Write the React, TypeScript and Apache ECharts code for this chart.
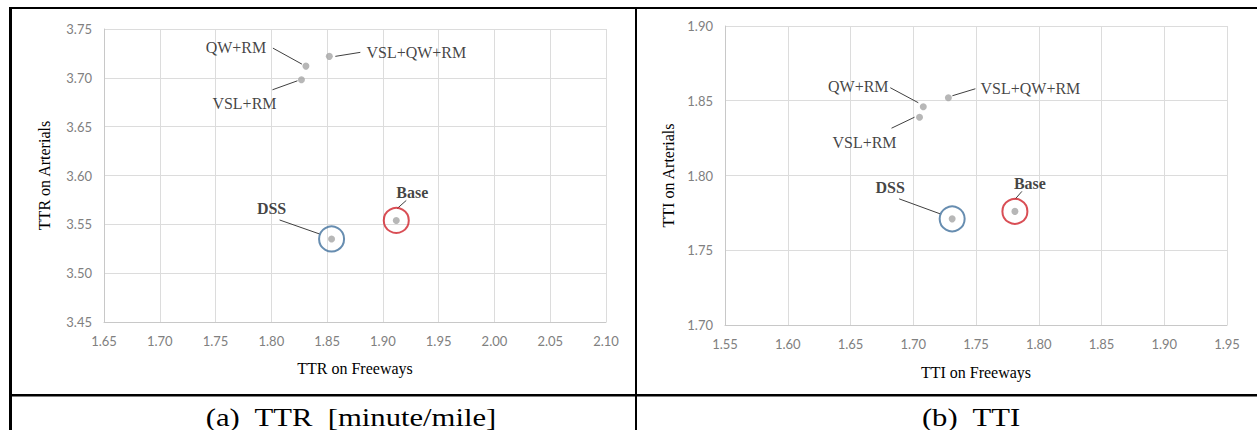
import React, { useEffect, useRef } from "react";
import * as echarts from "echarts";

// ---------- data ----------
const methods = ["QW+RM", "VSL+RM", "VSL+QW+RM", "DSS", "Base"];
const ttrFreeways = [1.831, 1.827, 1.852, 1.854, 1.912];
const ttrArterials = [3.712, 3.698, 3.722, 3.535, 3.554];
const ttiFreeways = [1.708, 1.705, 1.728, 1.731, 1.781];
const ttiArterials = [1.846, 1.839, 1.852, 1.771, 1.776];
const highlightedMethods = ["DSS", "Base"];

const ttrFreewayRange = [1.65, 2.1];
const ttrArterialRange = [3.45, 3.75];
const ttiFreewayRange = [1.55, 1.95];
const ttiArterialRange = [1.7, 1.9];
const tickStep = 0.05;

const xTitles = ["TTR on Freeways", "TTI on Freeways"];
const yTitles = ["TTR on Arterials", "TTI on Arterials"];
const captions = ["(a)  TTR  [minute/mile]", "(b)  TTI"];

// ---------- layout / style ----------
const SERIF = "'Liberation Serif', 'Times New Roman', serif";
const TICK_FONT = "Lato, Calibri, 'Liberation Sans', sans-serif";
const grids = [
  { left: 104, top: 29, width: 502, height: 293 },
  { left: 725, top: 26, width: 502, height: 299 },
];
const yNameGaps = [52, 49];
const xNameGaps = [38, 39];
const ringColors: Record<string, string> = { DSS: "#41719c", Base: "#d0222a" };
const labelOffsets: Record<string, number[]>[] = [
  { "QW+RM": [-70, -19], "VSL+RM": [-57, 24], "VSL+QW+RM": [87, -4], DSS: [-60, -30], Base: [16, -28] },
  { "QW+RM": [-65, -20], "VSL+RM": [-55, 25], "VSL+QW+RM": [82, -9], DSS: [-62, -31], Base: [15, -28] },
];
const leaderOffsets: Record<string, number[]>[] = [
  { "QW+RM": [-33, -18, -4, -2], "VSL+RM": [-29, 10, -4, 1], "VSL+QW+RM": [6, 0, 31, -4], DSS: [-52, -19, -12, -5], Base: [10, -20, 1, -12] },
  { "QW+RM": [-33, -19, -5, -4], "VSL+RM": [-28, 11, -5, 0], "VSL+QW+RM": [4, -2, 27, -9], DSS: [-53, -20, -12, -5], Base: [7, -20, 0, -12] },
];
const captionPos = [
  [351, 417],
  [971, 417],
];

const panels = [
  { xs: ttrFreeways, ys: ttrArterials, xr: ttrFreewayRange, yr: ttrArterialRange },
  { xs: ttiFreeways, ys: ttiArterials, xr: ttiFreewayRange, yr: ttiArterialRange },
];

export default function App() {
  const ref = useRef<HTMLDivElement>(null);
  useEffect(() => {
    if (!ref.current) return;
    const chart = echarts.init(ref.current, null, { renderer: "svg" });

    const xAxis: any[] = [];
    const yAxis: any[] = [];
    const series: any[] = [];
    panels.forEach((p, gi) => {
      const axisCommon = {
        type: "value",
        gridIndex: gi,
        interval: tickStep,
        axisTick: { show: false },
        axisLine: { show: true, lineStyle: { color: "#c8c8c8", width: 1 } },
        splitLine: { show: true, lineStyle: { color: "#dcdcdc", width: 1 } },
        axisLabel: {
          color: "#808080",
          fontSize: 13,
          fontFamily: TICK_FONT,
          formatter: (v: number) => v.toFixed(2),
        },
        nameLocation: "middle",
        nameTextStyle: { fontFamily: SERIF, fontSize: 16, color: "#000" },
      };
      xAxis.push({
        ...axisCommon,
        min: p.xr[0],
        max: p.xr[1],
        name: xTitles[gi],
        nameGap: xNameGaps[gi],
        axisLabel: { ...axisCommon.axisLabel, margin: 12 },
      });
      yAxis.push({
        ...axisCommon,
        min: p.yr[0],
        max: p.yr[1],
        name: yTitles[gi],
        nameGap: yNameGaps[gi],
        axisLabel: { ...axisCommon.axisLabel, margin: 12 },
      });
      const labelBase = {
        show: true,
        position: "inside",
        formatter: "{b}",
        fontFamily: SERIF,
        fontSize: 16,
        color: "#111",
        textBorderWidth: 0,
        textBorderColor: "transparent",
      };
      const offs = labelOffsets[gi];
      series.push({
        type: "scatter",
        xAxisIndex: gi,
        yAxisIndex: gi,
        symbolSize: 7,
        itemStyle: { color: "#a5a5a5" },
        z: 4,
        data: methods.map((m, i) => ({
          name: m,
          value: [p.xs[i], p.ys[i]],
          label: { show: !highlightedMethods.includes(m) },
        })),
        label: labelBase,
        labelLayout: (params: any) => {
          const o = offs[methods[params.dataIndex]];
          return { dx: o[0], dy: o[1] };
        },
      });
      series.push({
        type: "scatter",
        xAxisIndex: gi,
        yAxisIndex: gi,
        symbolSize: 25,
        z: 3,
        itemStyle: { color: "rgba(0,0,0,0)", borderWidth: 2 },
        data: highlightedMethods.map((m) => {
          const i = methods.indexOf(m);
          return {
            name: m,
            value: [p.xs[i], p.ys[i]],
            itemStyle: { borderColor: ringColors[m] },
          };
        }),
        label: { ...labelBase, fontWeight: "bold" },
        labelLayout: (params: any) => {
          const o = offs[highlightedMethods[params.dataIndex]];
          return { dx: o[0], dy: o[1] };
        },
      });
    });

    const borders: any[] = [
      { type: "rect", shape: { x: 9, y: 7, width: 3, height: 423 }, style: { fill: "#000" } },
      { type: "rect", shape: { x: 9, y: 7, width: 1248, height: 2 }, style: { fill: "#000" } },
      { type: "rect", shape: { x: 635, y: 7, width: 2, height: 423 }, style: { fill: "#000" } },
      { type: "rect", shape: { x: 9, y: 394, width: 1248, height: 2.5 }, style: { fill: "#000" } },
    ];
    const captionEls = captions.map((c, i) => ({
      type: "text",
      x: captionPos[i][0],
      y: captionPos[i][1],
      scaleX: 1.18,
      style: {
        text: c,
        fontFamily: SERIF,
        fontSize: 26,
        fill: "#000",
        textAlign: "center",
        textVerticalAlign: "middle",
      },
    }));

    chart.setOption({
      animation: false,
      grid: grids.map((g) => ({ ...g, containLabel: false })),
      xAxis,
      yAxis,
      series,
      graphic: [...borders, ...captionEls],
    });

    const leaders: any[] = [];
    panels.forEach((p, gi) => {
      methods.forEach((m, i) => {
        const pt = chart.convertToPixel({ gridIndex: gi } as any, [p.xs[i], p.ys[i]]) as number[];
        const l = leaderOffsets[gi][m];
        leaders.push({
          type: "line",
          z: 2,
          shape: { x1: pt[0] + l[0], y1: pt[1] + l[1], x2: pt[0] + l[2], y2: pt[1] + l[3] },
          style: { stroke: "#404040", lineWidth: 1 },
        });
      });
    });
    chart.setOption({ graphic: [...borders, ...captionEls, ...leaders] });

    return () => chart.dispose();
  }, []);
  return (
    <div
      ref={ref}
      style={{ position: "absolute", left: 0, top: 0, width: 1257, height: 430, background: "#fff" }}
    />
  );
}
